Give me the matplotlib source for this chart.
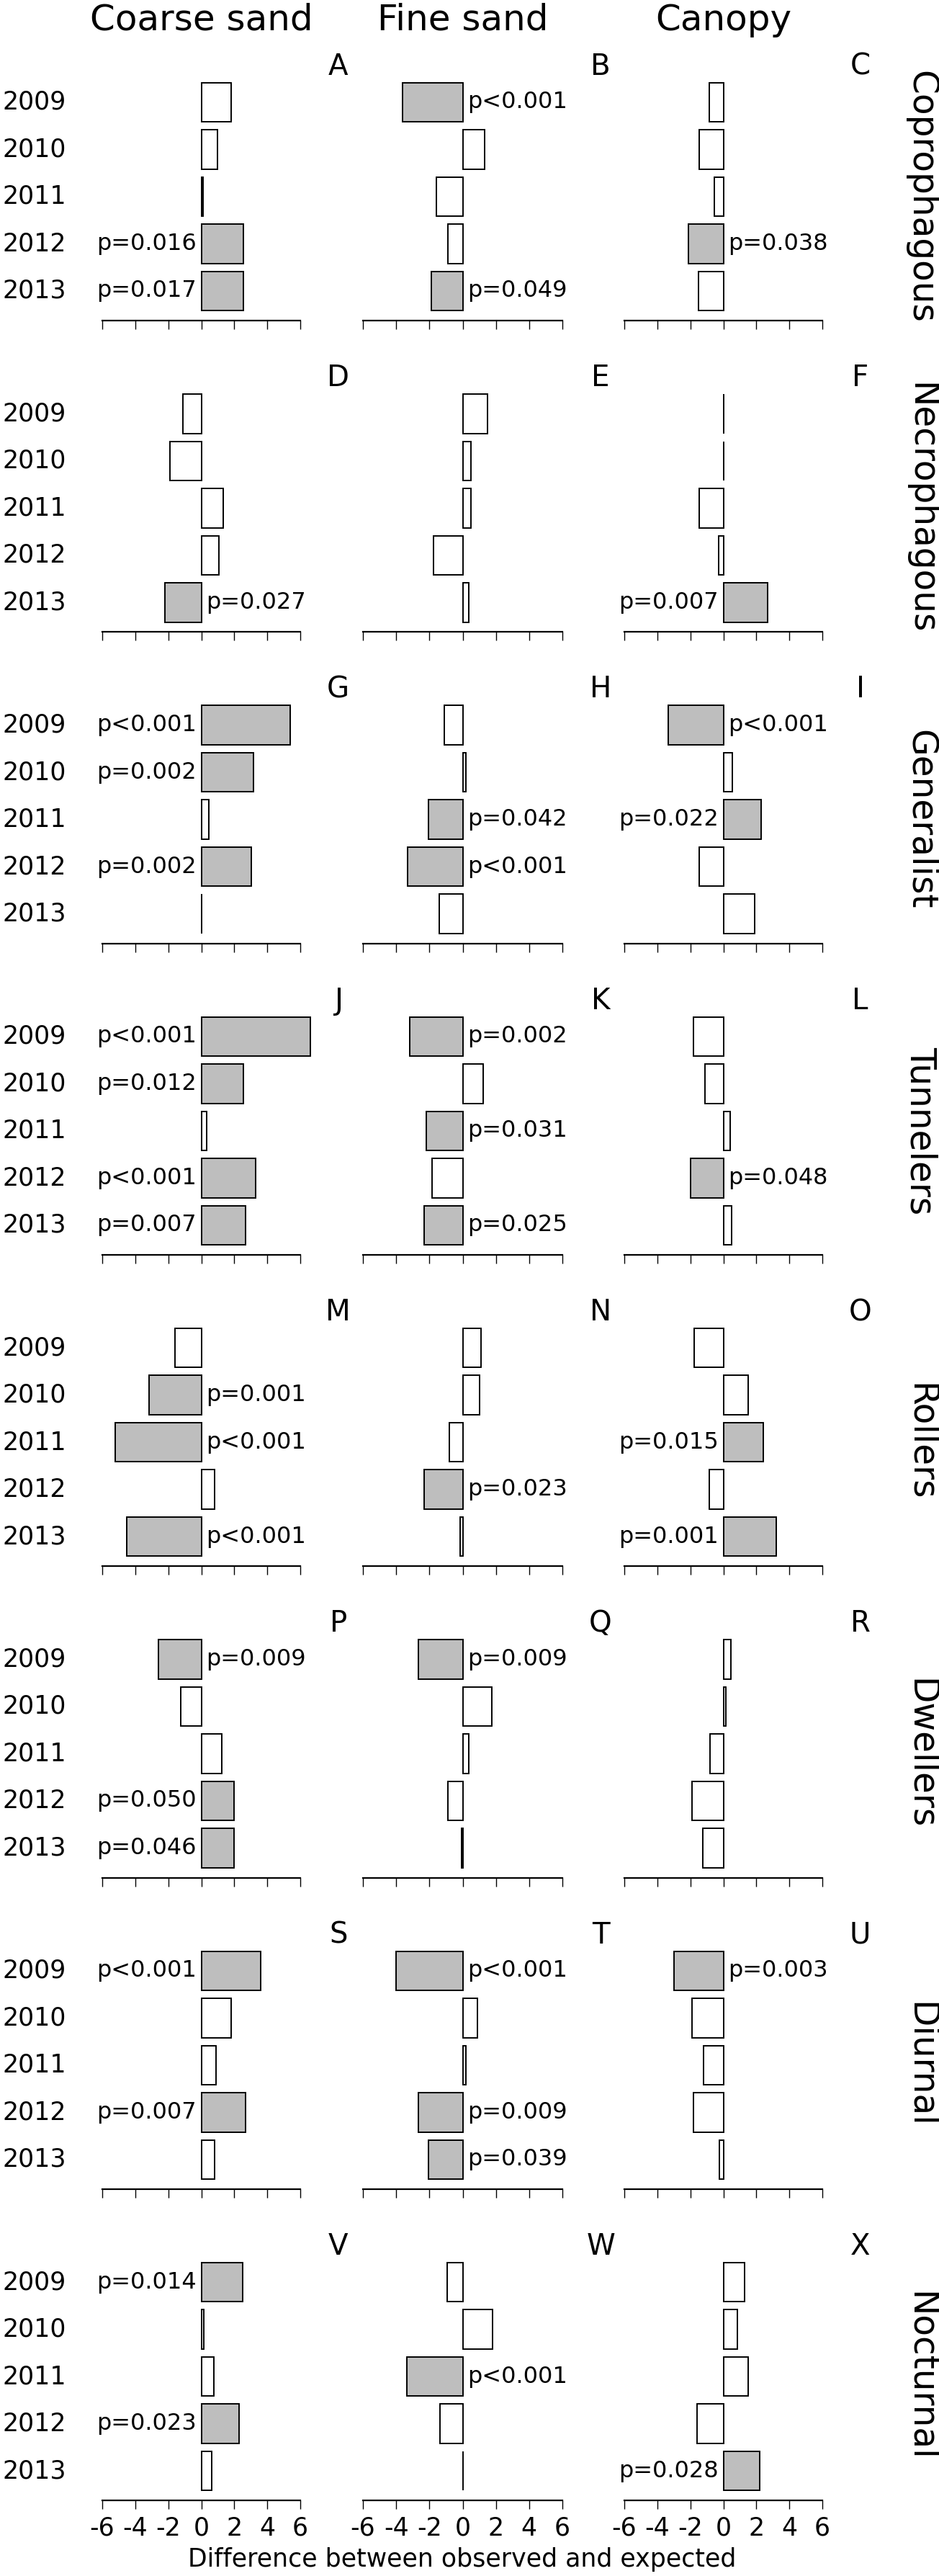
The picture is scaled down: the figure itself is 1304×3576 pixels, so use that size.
import matplotlib
matplotlib.use("Agg")
import matplotlib.pyplot as plt
import matplotlib.transforms as mtransforms
import numpy as np

# --- datos ---
years = ["2009", "2010", "2011", "2012", "2013"]
habitats = ["Coarse sand", "Fine sand", "Canopy"]
groups = ["Coprophagous", "Necrophagous", "Generalist", "Tunnelers",
          "Rollers", "Dwellers", "Diurnal", "Nocturnal"]
letters = list("ABCDEFGHIJKLMNOPQRSTUVWX")

# diferencia observada - esperada (coarse, fine, canopy)
coprophagous = [[1.8, 1.0, 0.1, 2.55, 2.55],
                [-3.6, 1.3, -1.6, -0.9, -1.9],
                [-0.85, -1.45, -0.55, -2.1, -1.5]]
coprophagous_p = [[None, None, None, "p=0.016", "p=0.017"],
                  ["p<0.001", None, None, None, "p=0.049"],
                  [None, None, None, "p=0.038", None]]

necrophagous = [[-1.1, -1.9, 1.35, 1.05, -2.2],
                [1.5, 0.5, 0.5, -1.75, 0.35],
                [0.02, 0.02, -1.45, -0.3, 2.7]]
necrophagous_p = [[None, None, None, None, "p=0.027"],
                  [None, None, None, None, None],
                  [None, None, None, None, "p=0.007"]]

generalist = [[5.4, 3.15, 0.47, 3.05, 0.03],
              [-1.1, 0.2, -2.05, -3.3, -1.4],
              [-3.35, 0.55, 2.3, -1.45, 1.9]]
generalist_p = [["p<0.001", "p=0.002", None, "p=0.002", None],
                [None, None, "p=0.042", "p<0.001", None],
                ["p<0.001", None, "p=0.022", None, None]]

tunnelers = [[6.6, 2.55, 0.33, 3.3, 2.7],
             [-3.2, 1.25, -2.2, -1.85, -2.3],
             [-1.8, -1.1, 0.4, -2.0, 0.5]]
tunnelers_p = [["p<0.001", "p=0.012", None, "p<0.001", "p=0.007"],
               ["p=0.002", None, "p=0.031", None, "p=0.025"],
               [None, None, None, "p=0.048", None]]

rollers = [[-1.6, -3.15, -5.2, 0.8, -4.5],
           [1.1, 1.0, -0.8, -2.3, -0.15],
           [-1.75, 1.5, 2.4, -0.85, 3.2]]
rollers_p = [[None, "p=0.001", "p<0.001", None, "p<0.001"],
             [None, None, None, "p=0.023", None],
             [None, None, "p=0.015", None, "p=0.001"]]

dwellers = [[-2.6, -1.25, 1.25, 2.0, 2.0],
            [-2.65, 1.75, 0.35, -0.9, -0.05],
            [0.45, 0.15, -0.8, -1.9, -1.25]]
dwellers_p = [["p=0.009", None, None, "p=0.050", "p=0.046"],
              ["p=0.009", None, None, None, None],
              [None, None, None, None, None]]

diurnal = [[3.6, 1.8, 0.9, 2.7, 0.8],
           [-4.0, 0.87, 0.2, -2.65, -2.05],
           [-3.0, -1.9, -1.2, -1.8, -0.25]]
diurnal_p = [["p<0.001", None, None, "p=0.007", None],
             ["p<0.001", None, None, "p=0.009", "p=0.039"],
             ["p=0.003", None, None, None, None]]

nocturnal = [[2.5, 0.15, 0.76, 2.3, 0.65],
             [-0.95, 1.8, -3.35, -1.35, 0.02],
             [1.3, 0.87, 1.5, -1.6, 2.2]]
nocturnal_p = [["p=0.014", None, None, "p=0.023", None],
               [None, None, "p<0.001", None, None],
               [None, None, None, None, "p=0.028"]]

values = [coprophagous, necrophagous, generalist, tunnelers,
          rollers, dwellers, diurnal, nocturnal]
pvalues = [coprophagous_p, necrophagous_p, generalist_p, tunnelers_p,
           rollers_p, dwellers_p, diurnal_p, nocturnal_p]

xticks = [-6, -4, -2, 0, 2, 4, 6]

# --- figura ---
plt.rcParams["font.family"] = ["DejaVu Sans"]
plt.rcParams["axes.unicode_minus"] = False

W, H = 1304, 3576
fig = plt.figure(figsize=(W / 100, H / 100), dpi=100)


def rect(x0, ytop, x1, ybot):
    return [x0 / W, 1 - ybot / H, (x1 - x0) / W, (ybot - ytop) / H]


col_x = [(142, 417), (504, 781), (867, 1142)]
row_step = 432.3
ypos = np.arange(len(years))

for r, g in enumerate(groups):
    ytop = 76.5 + r * row_step
    ybot = 445 + r * row_step
    for c in range(3):
        ax = fig.add_axes(rect(col_x[c][0], ytop, col_x[c][1], ybot))
        vals = values[r][c]
        ps = pvalues[r][c]
        colors = ["#bebebe" if p else "white" for p in ps]
        ax.barh(ypos, vals, height=0.833, color=colors, edgecolor="black",
                linewidth=1.4, clip_on=False)
        # etiqueta p al lado opuesto de la barra
        for i, (v, p) in enumerate(zip(vals, ps)):
            if p is None:
                continue
            if v > 0:
                ax.text(-0.3, i, p, ha="right", va="center", fontsize=23)
            else:
                ax.text(0.3, i, p, ha="left", va="center", fontsize=23)
        ax.set_xlim(-6, 6)
        ax.set_ylim(4.626, -1.0)
        for s in ["left", "top", "right"]:
            ax.spines[s].set_visible(False)
        ax.spines["bottom"].set_linewidth(1.6)
        ax.set_yticks([])
        ax.set_xticks(xticks)
        ax.tick_params(axis="x", direction="out", length=8.6, width=1.0,
                       pad=7, labelsize=25, labelbottom=(r == len(groups) - 1))
        ax.patch.set_visible(False)
        ax.text(8.3, -0.75, letters[r * 3 + c], ha="center", va="center",
                fontsize=29, clip_on=False)
        if c == 0:
            tr = mtransforms.blended_transform_factory(fig.transFigure, ax.transData)
            for i, y in enumerate(years):
                ax.text(4 / W, i, y, transform=tr, ha="left", va="center",
                        fontsize=25)
    fig.text(1279 / W, 1 - (273 + r * row_step) / H, g, rotation=270,
             ha="center", va="center", fontsize=35)

for c, h in enumerate(habitats):
    xc = (col_x[c][0] + col_x[c][1]) / 2
    fig.text(xc / W, 1 - 42 / H, h, ha="center", va="baseline", fontsize=36)

fig.text(642 / W, 1 - 3553 / H, "Difference between observed and expected",
         ha="center", va="center", fontsize=25)

fig.savefig("out.png", dpi=100)
